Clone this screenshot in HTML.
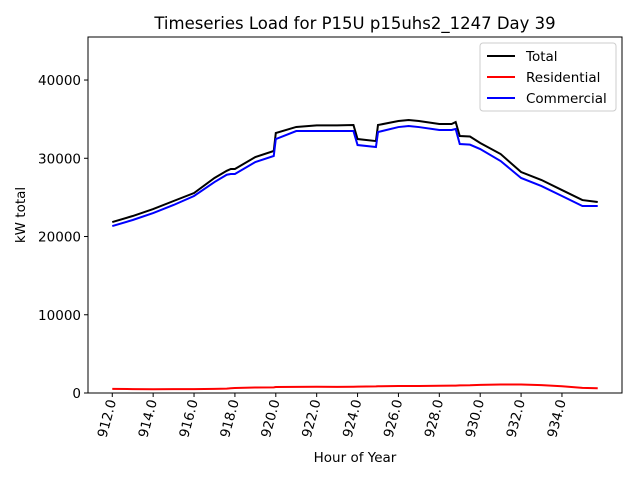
<!DOCTYPE html>
<html><head><meta charset="utf-8"><style>
body{margin:0;background:#fff;font-family:"DejaVu Sans","Liberation Sans",sans-serif}
svg text{font-family:"DejaVu Sans","Liberation Sans",sans-serif}
</style></head><body>
<svg id="chart" width="640" height="480" xmlns="http://www.w3.org/2000/svg">
<rect width="640" height="480" fill="#fff"/>
<text x="355" y="29" font-size="16.5" text-anchor="middle">Timeseries Load for P15U p15uhs2_1247  Day 39</text>
<g id="plot"></g>
<rect x="88" y="37" width="534" height="356" fill="none" stroke="#000" stroke-width="1"/>
<text x="355" y="462" font-size="13.5" text-anchor="middle">Hour of Year</text>
<text transform="translate(25,215) rotate(-90)" font-size="13.5" text-anchor="middle">kW total</text>
<g>
<rect x="480" y="43" width="136" height="68" rx="3" fill="#fff" stroke="#ccc"/>
<line x1="487" y1="56" x2="515" y2="56" stroke="#000" stroke-width="2"/>
<text x="526" y="61" font-size="13.5">Total</text>
<line x1="487" y1="77" x2="515" y2="77" stroke="#f00" stroke-width="2"/>
<text x="526" y="82" font-size="13.5">Residential</text>
<line x1="487" y1="98" x2="515" y2="98" stroke="#00f" stroke-width="2"/>
<text x="526" y="103" font-size="13.5">Commercial</text>
</g>
</svg>
<script>
const hours=[912,913,914,915,916,917,917.6,917.8,918,919,919.9,920,921,922,923,923.8,924,924.9,925,926,926.5,927,928,928.6,928.8,929,929.5,930,931,932,933,934,935,935.75];
const total=[21850,22620,23510,24540,25560,27480,28400,28630,28630,30160,30930,33230,34000,34200,34200,34250,32460,32200,34250,34760,34890,34760,34380,34380,34630,32840,32780,31950,30540,28240,27220,25940,24660,24410];
const commercial=[21340,22110,23000,24030,25180,26960,27900,27990,27990,29520,30290,32460,33480,33480,33480,33480,31690,31440,33350,33990,34120,33990,33610,33610,33740,31820,31740,31180,29650,27480,26450,25180,23900,23900];
const residential=[520,500,480,490,500,520,560,600,640,700,720,760,780,800,780,800,810,840,860,900,900,900,920,940,950,980,990,1040,1080,1080,1000,860,650,600];
const yTicks=[0,10000,20000,30000,40000];
const xTicks=[912,914,916,918,920,922,924,926,928,930,932,934];
const X0=88,X1=622,Y0=393,Y1=37,xmin=910.8125,xmax=936.9375,ymin=0,ymax=45500;
const xs=v=>X0+(v-xmin)/(xmax-xmin)*(X1-X0);
const ys=v=>Y0-(v-ymin)/(ymax-ymin)*(Y0-Y1);
const NS="http://www.w3.org/2000/svg";
const g=document.getElementById('plot');
function mk(t,a){const e=document.createElementNS(NS,t);for(const k in a)e.setAttribute(k,a[k]);g.appendChild(e);return e;}
yTicks.forEach(v=>{
 const l=mk('line',{x1:X0-4,x2:X0,y1:ys(v),y2:ys(v),stroke:'#000'});
 
 
 const t=mk('text',{x:X0-7,y:ys(v)+5,'font-size':13.5,'text-anchor':'end'});
 t.textContent=v;
 
 
});
xTicks.forEach(v=>{
 const x=xs(v);
 const l=mk('line',{x1:x,x2:x,y1:Y0,y2:Y0+4,stroke:'#000'});
 
 
 const t=mk('text',{transform:`translate(${x+4},${Y0+8}) rotate(-75)`,'font-size':13.5,'text-anchor':'end'});
 t.textContent=v.toFixed(1);
 
 
});
[[total,'#000','total-line'],[residential,'#f00','residential-line'],[commercial,'#00f','commercial-line']].forEach(([d,c,n])=>{
 const p=mk('polyline',{points:hours.map((h,i)=>xs(h)+','+ys(d[i])).join(' '),fill:'none',stroke:c,'stroke-width':2});
 
 
});
</script>
</body></html>
